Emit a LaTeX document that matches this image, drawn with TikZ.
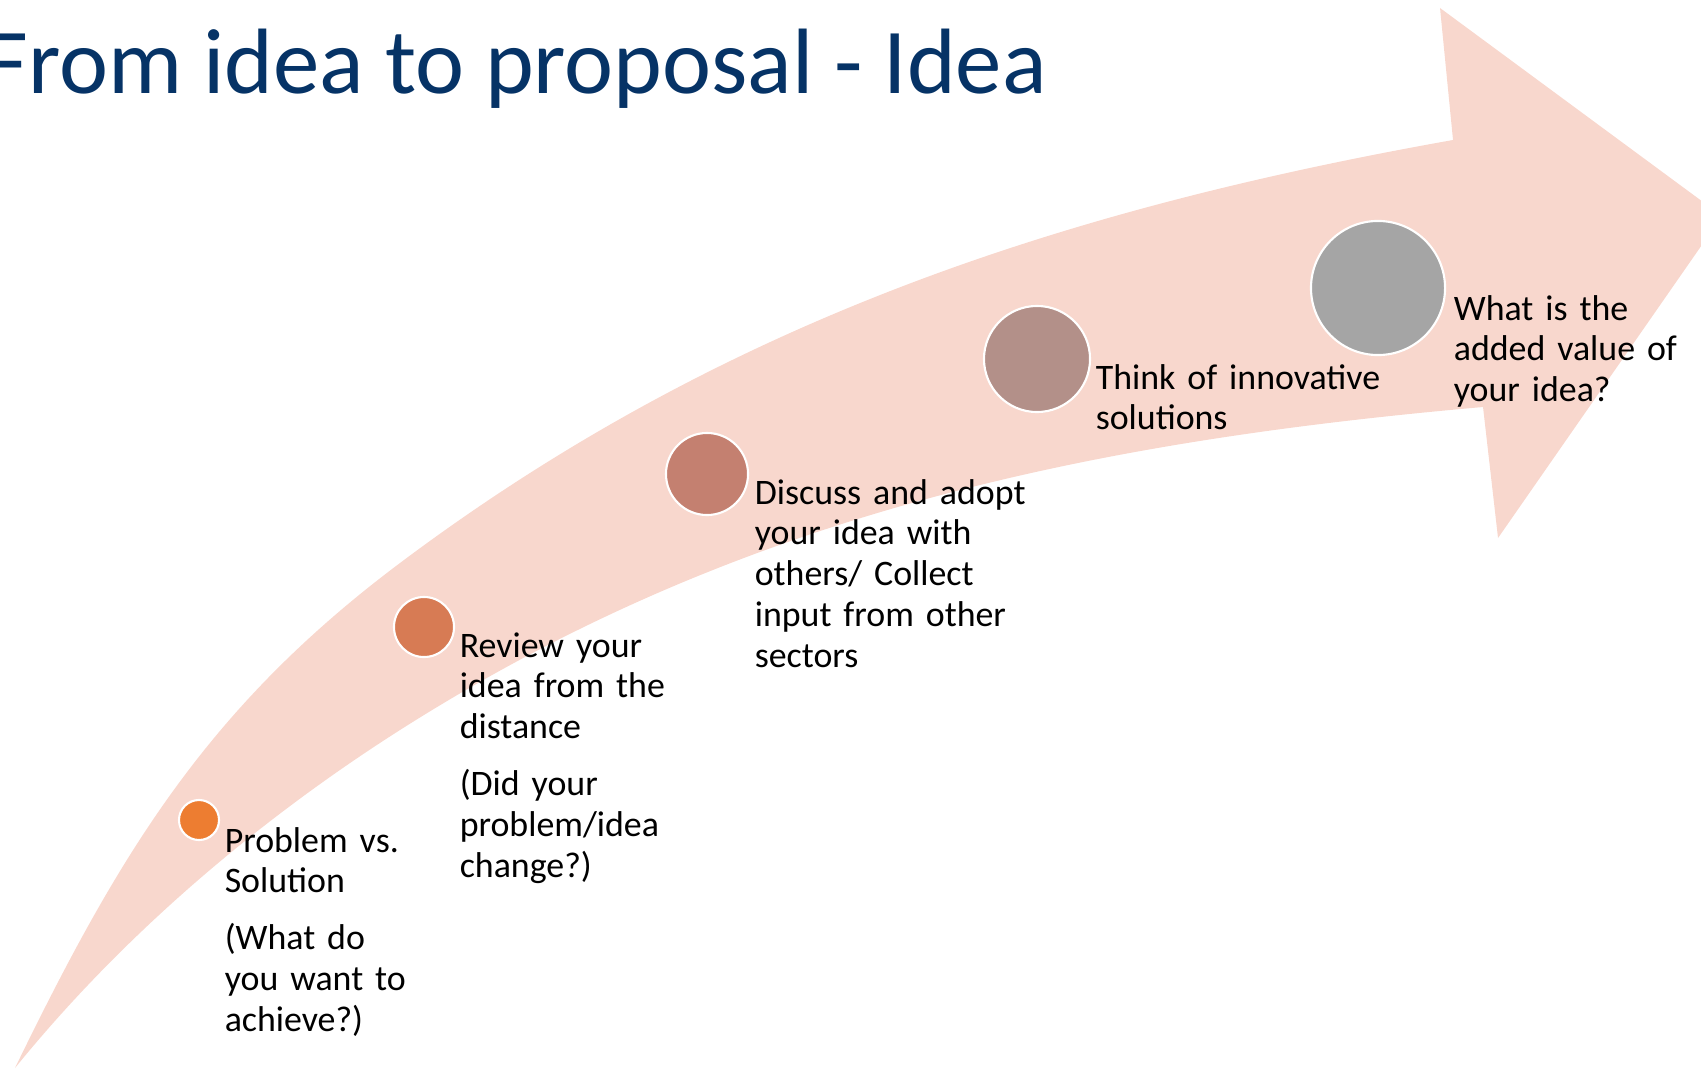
\documentclass[tikz,border=0pt]{standalone}
\usepackage{fontspec}
\setmainfont{Carlito}
\usepackage{xcolor}
\usepackage{tikz}
\usetikzlibrary{positioning}

\definecolor{headblue}{HTML}{063366}
\definecolor{bandpink}{HTML}{F8D7CD}
\definecolor{dotA}{HTML}{ED7D31}
\definecolor{dotB}{HTML}{D77B54}
\definecolor{dotC}{HTML}{C48070}
\definecolor{dotD}{HTML}{B39089}
\definecolor{dotE}{HTML}{A5A5A5}

\begin{document}
\begin{tikzpicture}[
    x=0.01cm, y=-0.01cm,
    bullet/.style={circle, draw=white, line width=0.6pt, inner sep=0pt},
    note/.style={anchor=base west, inner sep=0pt, align=left, text width=3.3cm, font=\fontsize{10.2}{11.6}\selectfont},
    headline/.style={anchor=base west, inner sep=0pt, text=headblue, font=\fontsize{26.4}{32}\selectfont}
]
\useasboundingbox (0,0) rectangle (1701,1070);
\clip (0,0) rectangle (1701,1070);

% Curved arrow
\fill[bandpink] (15,1068) .. controls (120,852) and (208,707) .. (400,563)
    .. controls (720,323) and (1059,210) .. (1453,140)
    -- (1440,8) -- (1722,216) -- (1498,538) -- (1483,407)
    .. controls (1085,442) and (738,515) .. (400,730)
    .. controls (257,821) and (122,936) .. cycle;

% Title
\node[headline] (title) at (-15,94) {From idea to proposal - Idea};

% Stages
\node[bullet, fill=dotA, minimum size=0.40cm] (dot1) at (199,820) {};
\node[bullet, fill=dotB, minimum size=0.60cm] (dot2) at (424,627) {};
\node[bullet, fill=dotC, minimum size=0.82cm] (dot3) at (707,474) {};
\node[bullet, fill=dotD, minimum size=1.06cm] (dot4) at (1037,359) {};
\node[bullet, fill=dotE, minimum size=1.34cm] (dot5) at (1378,288) {};

\node[note] (txt1) at ([shift={(4,32)}]dot1.east) {Problem vs.\\Solution\\[4.6pt](What do\\you want to\\achieve?)};
\node[note] (txt2) at ([shift={(4,30)}]dot2.east) {Review your\\idea from the\\distance\\[4.6pt](Did your\\problem/idea\\change?)};
\node[note] (txt3) at ([shift={(5,30)}]dot3.east) {Discuss and adopt\\your idea with\\others/ Collect\\input from other\\sectors};
\node[note] (txt4) at ([shift={(4,30)}]dot4.east) {Think of innovative\\solutions};
\node[note] (txt5) at ([shift={(7,32)}]dot5.east) {What is the\\added value of\\your idea?};

\end{tikzpicture}
\end{document}
